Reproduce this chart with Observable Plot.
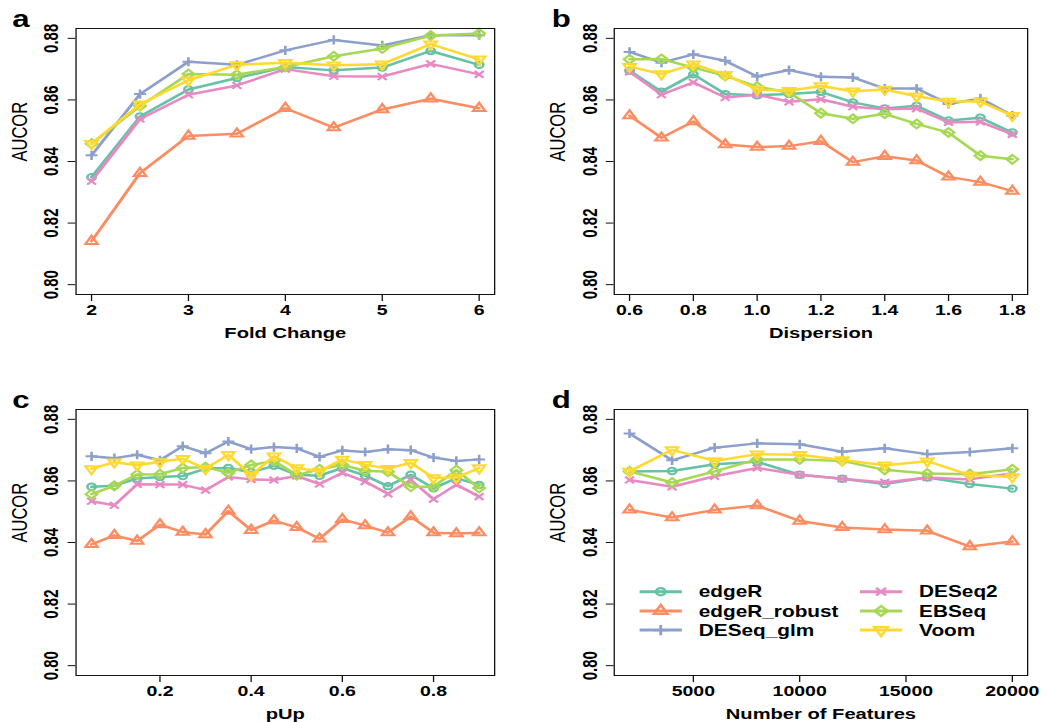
<!DOCTYPE html>
<html>
<head>
<meta charset="utf-8">
<script src="https://cdn.jsdelivr.net/npm/d3@7"></script>
<script src="https://cdn.jsdelivr.net/npm/@observablehq/plot@0.6"></script>
<style>
html, body { margin: 0; padding: 0; background: #fff; overflow: hidden; }
#wrap { position: relative; width: 808.46px; height: 722px; transform: scaleX(1.3); transform-origin: 0 0; font-family: "Liberation Sans", Arial, Helvetica, sans-serif; }
#wrap svg { position: absolute; overflow: visible; }
</style>
</head>
<body>
<div id="wrap"></div>
<script>
// ---------- data ----------
const methods = ["edgeR", "edgeR_robust", "DESeq_glm", "DESeq2", "EBSeq", "Voom"];
const methodColors = ["#66C2A5", "#FC8D62", "#8DA0CB", "#E78AC3", "#A6D854", "#FFD92F"];
const yTicks = [0.80, 0.82, 0.84, 0.86, 0.88];

// (a) Fold Change
const fcX = [2, 2.5, 3, 3.5, 4, 4.5, 5, 5.5, 6];
const fcEdgeR       = [0.8349, 0.8546, 0.8634, 0.8671, 0.8707, 0.8696, 0.8705, 0.8759, 0.8714];
const fcEdgeRRobust = [0.8141, 0.8362, 0.8483, 0.8490, 0.8573, 0.8510, 0.8569, 0.8604, 0.8573];
const fcDESeqGlm    = [0.8420, 0.8619, 0.8724, 0.8714, 0.8761, 0.8795, 0.8777, 0.8810, 0.8810];
const fcDESeq2      = [0.8336, 0.8538, 0.8617, 0.8647, 0.8700, 0.8677, 0.8676, 0.8717, 0.8683];
const fcEBSeq       = [0.8458, 0.8580, 0.8684, 0.8682, 0.8707, 0.8742, 0.8767, 0.8809, 0.8816];
const fcVoom        = [0.8458, 0.8586, 0.8664, 0.8714, 0.8721, 0.8713, 0.8716, 0.8781, 0.8732];
const fcTicks = [2, 3, 4, 5, 6];

// (b) Dispersion
const dispX = [0.6, 0.7, 0.8, 0.9, 1.0, 1.1, 1.2, 1.3, 1.4, 1.5, 1.6, 1.7, 1.8];
const dispEdgeR       = [0.8695, 0.8627, 0.8683, 0.8619, 0.8615, 0.8619, 0.8626, 0.8592, 0.8572, 0.8581, 0.8533, 0.8542, 0.8494];
const dispEdgeRRobust = [0.8549, 0.8477, 0.8530, 0.8455, 0.8447, 0.8450, 0.8466, 0.8398, 0.8417, 0.8403, 0.8350, 0.8333, 0.8304];
const dispDESeqGlm    = [0.8756, 0.8721, 0.8748, 0.8727, 0.8676, 0.8697, 0.8675, 0.8673, 0.8637, 0.8637, 0.8587, 0.8605, 0.8549];
const dispDESeq2      = [0.8691, 0.8617, 0.8657, 0.8608, 0.8617, 0.8594, 0.8602, 0.8578, 0.8570, 0.8572, 0.8527, 0.8529, 0.8488];
const dispEBSeq       = [0.8732, 0.8733, 0.8705, 0.8678, 0.8643, 0.8624, 0.8557, 0.8539, 0.8555, 0.8522, 0.8494, 0.8419, 0.8407];
const dispVoom        = [0.8708, 0.8684, 0.8716, 0.8682, 0.8634, 0.8630, 0.8645, 0.8628, 0.8634, 0.8612, 0.8595, 0.8595, 0.8549];
const dispTicks = [0.6, 0.8, 1.0, 1.2, 1.4, 1.6, 1.8];

// (c) pUp
const pUpX = [0.05, 0.1, 0.15, 0.2, 0.25, 0.3, 0.35, 0.4, 0.45, 0.5, 0.55, 0.6, 0.65, 0.7, 0.75, 0.8, 0.85, 0.9];
const pUpEdgeR       = [0.8581, 0.8584, 0.8608, 0.8613, 0.8616, 0.8640, 0.8642, 0.8628, 0.8649, 0.8620, 0.8617, 0.8642, 0.8617, 0.8583, 0.8620, 0.8576, 0.8609, 0.8587];
const pUpEdgeRRobust = [0.8394, 0.8423, 0.8405, 0.8458, 0.8434, 0.8426, 0.8502, 0.8440, 0.8471, 0.8449, 0.8412, 0.8475, 0.8455, 0.8432, 0.8484, 0.8432, 0.8429, 0.8432];
const pUpDESeqGlm    = [0.8680, 0.8674, 0.8685, 0.8667, 0.8713, 0.8690, 0.8728, 0.8703, 0.8710, 0.8706, 0.8678, 0.8699, 0.8694, 0.8703, 0.8700, 0.8676, 0.8665, 0.8670];
const pUpDESeq2      = [0.8534, 0.8521, 0.8589, 0.8588, 0.8588, 0.8570, 0.8613, 0.8605, 0.8603, 0.8616, 0.8590, 0.8626, 0.8598, 0.8558, 0.8603, 0.8541, 0.8588, 0.8549];
const pUpEBSeq       = [0.8557, 0.8584, 0.8621, 0.8622, 0.8642, 0.8645, 0.8626, 0.8652, 0.8665, 0.8619, 0.8638, 0.8652, 0.8633, 0.8630, 0.8581, 0.8581, 0.8635, 0.8577];
const pUpVoom        = [0.8639, 0.8661, 0.8651, 0.8662, 0.8672, 0.8640, 0.8685, 0.8619, 0.8680, 0.8642, 0.8631, 0.8670, 0.8653, 0.8640, 0.8659, 0.8610, 0.8611, 0.8642];
const pUpTicks = [0.2, 0.4, 0.6, 0.8];

// (d) Number of Features
const featX = [2000, 4000, 6000, 8000, 10000, 12000, 14000, 16000, 18000, 20000];
const featEdgeR       = [0.8631, 0.8632, 0.8654, 0.8662, 0.8620, 0.8607, 0.8590, 0.8611, 0.8590, 0.8575];
const featEdgeRRobust = [0.8506, 0.8481, 0.8506, 0.8520, 0.8470, 0.8449, 0.8442, 0.8438, 0.8387, 0.8403];
const featDESeqGlm    = [0.8754, 0.8667, 0.8708, 0.8722, 0.8719, 0.8695, 0.8706, 0.8687, 0.8694, 0.8706];
const featDESeq2      = [0.8603, 0.8581, 0.8615, 0.8642, 0.8620, 0.8607, 0.8595, 0.8611, 0.8605, 0.8625];
const featEBSeq       = [0.8631, 0.8595, 0.8631, 0.8670, 0.8670, 0.8665, 0.8636, 0.8624, 0.8622, 0.8638];
const featVoom        = [0.8631, 0.8701, 0.8665, 0.8687, 0.8685, 0.8668, 0.8651, 0.8664, 0.8619, 0.8613];
const featTicks = [5000, 10000, 15000, 20000];

// ---------- symbols (R pch 1..6) ----------
const kOf = size => Math.sqrt(size / Math.PI) / 4;
const symCircle = { draw(c, size) { const r = 3.2 * kOf(size); c.moveTo(r, 0); c.arc(0, 0, r, 0, 2 * Math.PI); c.closePath(); } };
const symTriUp = { draw(c, size) { const R = 5.4 * kOf(size); c.moveTo(0, -R); c.lineTo(0.866 * R, 0.5 * R); c.lineTo(-0.866 * R, 0.5 * R); c.closePath(); } };
const symPlus = { draw(c, size) { const a = 4.6 * kOf(size); c.moveTo(-a, 0); c.lineTo(a, 0); c.moveTo(0, -a); c.lineTo(0, a); } };
const symTimes = { draw(c, size) { const a = 3.4 * kOf(size); c.moveTo(-a, -a); c.lineTo(a, a); c.moveTo(-a, a); c.lineTo(a, -a); } };
const symDiamond = { draw(c, size) { const a = 4.4 * kOf(size); c.moveTo(0, -a); c.lineTo(a, 0); c.lineTo(0, a); c.lineTo(-a, 0); c.closePath(); } };
const symTriDown = { draw(c, size) { const R = 5.4 * kOf(size); c.moveTo(0, R); c.lineTo(0.866 * R, -0.5 * R); c.lineTo(-0.866 * R, -0.5 * R); c.closePath(); } };
const methodSymbols = [symCircle, symTriUp, symPlus, symTimes, symDiamond, symTriDown];

// ---------- panels ----------
const wrap = document.getElementById("wrap");
const FONT = '"Liberation Sans", Arial, Helvetica, sans-serif';
const yDomain = [0.7968, 0.8832];

function panel(cfg) {
  const marks = [];
  cfg.series.forEach((vals, i) => {
    const data = cfg.xs.map((x, j) => ({x, y: vals[j], method: methods[i]}));
    marks.push(Plot.line(data, {x: "x", y: "y", stroke: methodColors[i], strokeWidth: 2.5, strokeLinejoin: "round", strokeLinecap: "round"}));
    marks.push(Plot.dot(data, {x: "x", y: "y", stroke: methodColors[i], symbol: methodSymbols[i], r: 4, strokeWidth: 2, fill: "none"}));
  });
  marks.push(Plot.frame({stroke: "#111", strokeWidth: 1}));
  marks.push(Plot.axisX({ticks: cfg.xTicks, tickFormat: cfg.xFormat, tickSize: 7, tickPadding: 3, fontSize: 15, fontWeight: "bold", label: null, stroke: "#111"}));
  marks.push(Plot.axisY({ticks: yTicks, tickFormat: d3.format(".2f"), tickRotate: -90, tickSize: 6, tickPadding: 7.5, fontSize: 15, fontWeight: "bold", label: null, stroke: "#111"}));
  marks.push(Plot.text([cfg.xLabel], {frameAnchor: "bottom", lineAnchor: "bottom", dy: 43, fontSize: 15.5, fontWeight: "bold", fill: "#000"}));
  marks.push(Plot.text(["AUCOR"], {frameAnchor: "left", rotate: -90, lineAnchor: "top", dx: cfg.labelDx, fontSize: 16.5, fill: "#000"}));
  marks.push(Plot.text([cfg.letter], {frameAnchor: "top-left", textAnchor: "start", lineAnchor: "bottom", dx: cfg.letterDx, dy: -2, fontSize: 24, fontWeight: "bold", fill: "#000"}));
  const svg = Plot.plot({
    width: 404, height: 361,
    marginTop: 28, marginBottom: 67, marginLeft: cfg.mLeft, marginRight: cfg.mRight,
    x: {domain: cfg.xDomain},
    y: {domain: yDomain},
    style: {fontFamily: FONT, background: "transparent", color: "#000", overflow: "visible"},
    marks
  });
  svg.style.left = cfg.left + "px";
  svg.style.top = cfg.top + "px";
  wrap.appendChild(svg);
}

panel({xs: fcX, series: [fcEdgeR, fcEdgeRRobust, fcDESeqGlm, fcDESeq2, fcEBSeq, fcVoom],
  xDomain: [1.84, 6.16], xTicks: fcTicks, xFormat: d3.format("d"), xLabel: "Fold Change", letter: "a",
  left: 0, top: 0, mLeft: 58, mRight: 24, labelDx: -49.5, letterDx: -49});
panel({xs: dispX, series: [dispEdgeR, dispEdgeRRobust, dispDESeqGlm, dispDESeq2, dispEBSeq, dispVoom],
  xDomain: [0.552, 1.848], xTicks: dispTicks, xFormat: d3.format(".1f"), xLabel: "Dispersion", letter: "b",
  left: 404, top: 0, mLeft: 68, mRight: 18, labelDx: -49.5, letterDx: -48});
panel({xs: pUpX, series: [pUpEdgeR, pUpEdgeRRobust, pUpDESeqGlm, pUpDESeq2, pUpEBSeq, pUpVoom],
  xDomain: [0.016, 0.934], xTicks: pUpTicks, xFormat: d3.format(".1f"), xLabel: "pUp", letter: "c",
  left: 0, top: 381, mLeft: 58, mRight: 24, labelDx: -49.5, letterDx: -49});
panel({xs: featX, series: [featEdgeR, featEdgeRRobust, featDESeqGlm, featDESeq2, featEBSeq, featVoom],
  xDomain: [1280, 20720], xTicks: featTicks, xFormat: d3.format("d"), xLabel: "Number of Features", letter: "d",
  left: 404, top: 381, mLeft: 68, mRight: 18, labelDx: -49.5, letterDx: -48});

// ---------- legend (inside panel d) ----------
const leg = d3.select(wrap).append("svg")
  .attr("width", 320).attr("height", 66)
  .style("left", "485px").style("top", "578px");
methods.forEach((m, i) => {
  const col = Math.floor(i / 3), row = i % 3;
  const g = leg.append("g").attr("transform", `translate(${col === 0 ? 7 : 176.5},${13.7 + row * 19.2})`);
  g.append("line").attr("x1", 0).attr("x2", 32.5).attr("y1", 0).attr("y2", 0)
    .attr("stroke", methodColors[i]).attr("stroke-width", 3);
  const p = d3.path();
  methodSymbols[i].draw(p, Math.PI * 20);
  g.append("path").attr("d", p.toString()).attr("transform", "translate(16.25,0)")
    .attr("fill", "none").attr("stroke", methodColors[i]).attr("stroke-width", 2.2);
  g.append("text").attr("x", 45.5).attr("dy", "0.36em").text(m)
    .attr("font-family", FONT).attr("font-size", 16).attr("font-weight", "bold").attr("fill", "#000");
});
</script>
</body>
</html>
